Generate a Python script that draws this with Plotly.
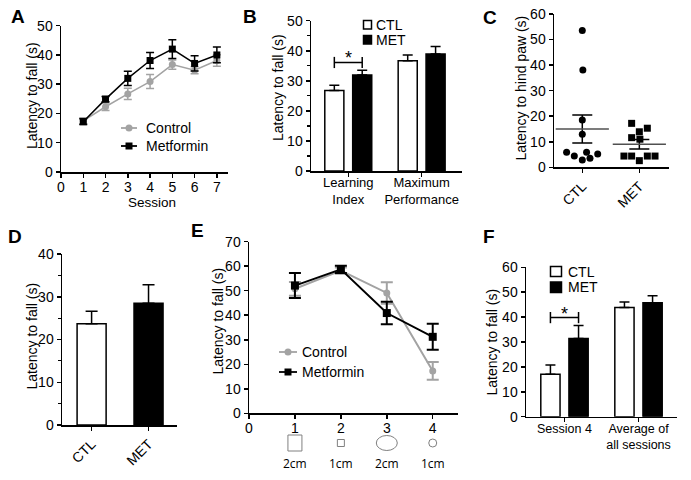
import plotly.graph_objects as go

# ---------------- data ----------------
# A: rotarod learning across sessions
a_sessions = [1, 2, 3, 4, 5, 6, 7]
a_ctl_mean = [17.5, 22.3, 26.7, 30.9, 36.7, 34.8, 38.1]
a_ctl_sem = [1.0, 1.3, 1.9, 2.4, 1.6, 1.2, 2.0]
a_met_mean = [17.2, 24.9, 32.0, 38.1, 42.0, 37.1, 40.0]
a_met_sem = [1.0, 0.9, 2.4, 2.7, 3.2, 2.6, 2.7]

# B: learning index / maximum performance
b_groups = ["Learning<br>Index", "Maximum<br>Performance"]
b_ctl = [26.8, 36.7]
b_ctl_sem = [1.7, 1.9]
b_met = [31.9, 38.9]
b_met_sem = [1.6, 2.5]
b_sig_y = 36.1

# C: latency to hind paw (individual animals)
c_groups = ["CTL", "MET"]
c_ctl_vals = [53.5, 38.1, 18.5, 12.9, 5.9, 4.4, 2.9, 3.5, 5.9, 5.2]
c_ctl_jitter = [0.0, 0.01, 0.0, 0.0, -0.275, -0.14, 0.0, 0.135, 0.075, 0.27]
c_met_vals = [17.2, 13.9, 15.3, 11.6, 11.0, 4.4, 4.4, 4.4, 4.4, 2.6]
c_met_jitter = [-0.135, 0.0, 0.14, -0.135, 0.01, -0.27, -0.135, 0.14, 0.275, 0.0]
c_means = [15.0, 9.0]
c_sems = [5.45, 1.85]

# D
d_groups = ["CTL", "MET"]
d_vals = [23.7, 28.5]
d_sems = [2.9, 4.3]

# E: beam walking
e_beams = [1, 2, 3, 4]
e_beam_sizes = ["2cm", "1cm", "2cm", "1cm"]
e_ctl_mean = [50.8, 58.2, 49.1, 17.3]
e_ctl_sem = [2.8, 1.3, 4.4, 3.6]
e_met_mean = [52.1, 58.7, 40.9, 31.2]
e_met_sem = [5.1, 1.5, 4.6, 5.3]

# F
f_groups = ["Session 4", "Average of<br>all sessions"]
f_ctl = [17.0, 43.9]
f_ctl_sem = [3.8, 2.2]
f_met = [31.4, 45.8]
f_met_sem = [5.2, 2.8]
f_sig_y = 39.8

# ---------------- layout helpers ----------------
W, H = 691, 480
FONT = "Liberation Sans, Arial, sans-serif"
GRAY = "#a3a3a3"


def px(x):
    return x / W


def py(y):
    return 1 - y / H


fig = go.Figure()

BAR_W = 0.26
BAR_OFF = 0.19


def add_bars(xa, ya, ctl, ctl_sem, met, met_sem, cap=5):
    pos = list(range(len(ctl)))
    fig.add_trace(go.Bar(x=pos, y=ctl, width=BAR_W, offset=-BAR_OFF - BAR_W / 2,
                         marker=dict(color="white", line=dict(color="black", width=1.5)),
                         error_y=dict(type="data", symmetric=False, array=ctl_sem,
                                      arrayminus=[0] * len(ctl), color="black",
                                      thickness=1.5, width=cap),
                         xaxis=xa, yaxis=ya, showlegend=False))
    fig.add_trace(go.Bar(x=pos, y=met, width=BAR_W, offset=BAR_OFF - BAR_W / 2,
                         marker=dict(color="black", line=dict(color="black", width=1.5)),
                         error_y=dict(type="data", symmetric=False, array=met_sem,
                                      arrayminus=[0] * len(met), color="black",
                                      thickness=1.5, width=cap),
                         xaxis=xa, yaxis=ya, showlegend=False))


# A
fig.add_trace(go.Scatter(x=a_sessions, y=a_ctl_mean, mode="lines+markers",
                         line=dict(color=GRAY, width=1.5),
                         marker=dict(symbol="circle", size=7, color=GRAY),
                         error_y=dict(type="data", array=a_ctl_sem, color=GRAY, thickness=1.5, width=4),
                         xaxis="x", yaxis="y", showlegend=False, cliponaxis=False))
fig.add_trace(go.Scatter(x=a_sessions, y=a_met_mean, mode="lines+markers",
                         line=dict(color="black", width=1.5),
                         marker=dict(symbol="square", size=7, color="black"),
                         error_y=dict(type="data", array=a_met_sem, color="black", thickness=1.5, width=4),
                         xaxis="x", yaxis="y", showlegend=False, cliponaxis=False))

# B
add_bars("x2", "y2", b_ctl, b_ctl_sem, b_met, b_met_sem, cap=5)
fig.add_trace(go.Scatter(x=[-BAR_OFF, BAR_OFF], y=[b_sig_y, b_sig_y], mode="lines+markers",
                         line=dict(color="black", width=1.5),
                         marker=dict(symbol="line-ns", size=8, line=dict(color="black", width=1.5)),
                         xaxis="x2", yaxis="y2", showlegend=False, cliponaxis=False))

# C
fig.add_trace(go.Scatter(x=[0 + j for j in c_ctl_jitter], y=c_ctl_vals, mode="markers",
                         marker=dict(symbol="circle", size=7, color="black"),
                         xaxis="x3", yaxis="y3", showlegend=False, cliponaxis=False))
fig.add_trace(go.Scatter(x=[1 + j for j in c_met_jitter], y=c_met_vals, mode="markers",
                         marker=dict(symbol="square", size=7, color="black"),
                         xaxis="x3", yaxis="y3", showlegend=False, cliponaxis=False))
fig.add_trace(go.Scatter(x=[0, 1], y=c_means, mode="markers",
                         marker=dict(symbol="line-ew", size=38, color="#505050",
                                     line=dict(color="#505050", width=1.5)),
                         error_y=dict(type="data", array=c_sems, color="black", thickness=1.5, width=10),
                         xaxis="x3", yaxis="y3", showlegend=False, cliponaxis=False))

# D
fig.add_trace(go.Bar(x=[0], y=[d_vals[0]], width=0.51,
                     marker=dict(color="white", line=dict(color="black", width=1.5)),
                     error_y=dict(type="data", symmetric=False, array=[d_sems[0]], arrayminus=[0],
                                  color="black", thickness=1.5, width=6),
                     xaxis="x4", yaxis="y4", showlegend=False))
fig.add_trace(go.Bar(x=[1], y=[d_vals[1]], width=0.51,
                     marker=dict(color="black", line=dict(color="black", width=1.5)),
                     error_y=dict(type="data", symmetric=False, array=[d_sems[1]], arrayminus=[0],
                                  color="black", thickness=1.5, width=6),
                     xaxis="x4", yaxis="y4", showlegend=False))

# E
fig.add_trace(go.Scatter(x=e_beams, y=e_ctl_mean, mode="lines+markers",
                         line=dict(color=GRAY, width=2),
                         marker=dict(symbol="circle", size=7, color=GRAY),
                         error_y=dict(type="data", array=e_ctl_sem, color=GRAY, thickness=2, width=6),
                         xaxis="x5", yaxis="y5", showlegend=False, cliponaxis=False))
fig.add_trace(go.Scatter(x=e_beams, y=e_met_mean, mode="lines+markers",
                         line=dict(color="black", width=2),
                         marker=dict(symbol="square", size=8, color="black"),
                         error_y=dict(type="data", array=e_met_sem, color="black", thickness=2, width=6),
                         xaxis="x5", yaxis="y5", showlegend=False, cliponaxis=False))

# F
add_bars("x6", "y6", f_ctl, f_ctl_sem, f_met, f_met_sem, cap=5)
fig.add_trace(go.Scatter(x=[-BAR_OFF, BAR_OFF], y=[f_sig_y, f_sig_y], mode="lines+markers",
                         line=dict(color="black", width=1.5),
                         marker=dict(symbol="line-ns", size=8, line=dict(color="black", width=1.5)),
                         xaxis="x6", yaxis="y6", showlegend=False, cliponaxis=False))

# ---------------- axes ----------------
TICKF = dict(family=FONT, size=14, color="black")
CATF = dict(family=FONT, size=13, color="black")
common = dict(showline=True, linecolor="black", linewidth=1.5, ticks="outside", ticklen=4,
              tickwidth=1.5, tickcolor="black", showgrid=False, zeroline=False,
              tickfont=TICKF, fixedrange=True, automargin=False)
MINOR = dict(dtick=5, ticks="outside", ticklen=2.5, tickwidth=1.2, tickcolor="black")


def xdom(l, r):
    return [px(l), px(r)]


def ydom(top, bot):
    return [py(bot), py(top)]


layout_axes = {
    # A
    "xaxis": dict(common, domain=xdom(61, 228), range=[0, 7.5], tickvals=list(range(0, 8)),
                  anchor="y", ticklabelstandoff=-2),
    "yaxis": dict(common, domain=ydom(25.7, 172), range=[0, 50], dtick=10, anchor="x"),
    # B
    "xaxis2": dict(common, domain=xdom(311, 462), range=[-0.508, 1.55], tickvals=[0, 1],
                   ticktext=b_groups, anchor="y2", tickfont=CATF, ticklabelstandoff=-5),
    "yaxis2": dict(common, domain=ydom(20.7, 171), range=[0, 50], dtick=10, anchor="x2", minor=MINOR),
    # C
    "xaxis3": dict(common, domain=xdom(554, 669), range=[-0.496, 1.52], tickvals=[0, 1],
                   ticktext=c_groups, tickangle=-45, anchor="y3"),
    "yaxis3": dict(common, domain=ydom(14, 167.3), range=[0, 60], dtick=10, anchor="x3"),
    # D
    "xaxis4": dict(common, domain=xdom(62, 177), range=[-0.52, 1.5], tickvals=[0, 1],
                   ticktext=d_groups, tickangle=-45, anchor="y4"),
    "yaxis4": dict(common, domain=ydom(254, 425), range=[0, 40], dtick=10, anchor="x4", minor=MINOR),
    # E
    "xaxis5": dict(common, domain=xdom(249, 458), range=[0, 4.55], tickvals=[0, 1, 2, 3, 4],
                   anchor="y5", ticklabelstandoff=-3),
    "yaxis5": dict(common, domain=ydom(241.7, 413.3), range=[0, 70], dtick=10, anchor="x5"),
    # F
    "xaxis6": dict(common, domain=xdom(526, 677), range=[-0.52, 1.52], tickvals=[0, 1],
                   ticktext=f_groups, anchor="y6", tickfont=dict(CATF, size=12.5), ticklabelstandoff=-4),
    "yaxis6": dict(common, domain=ydom(267.3, 416.7), range=[0, 60], dtick=10, anchor="x6"),
}

# ---------------- annotations ----------------
ann = []
LETTERF = dict(family=FONT, size=19, color="black")
for letter, lx, ly in [("A", 9, 17), ("B", 241, 17), ("C", 481, 18), ("D", 6, 236),
                       ("E", 189, 231), ("F", 481, 236)]:
    ann.append(dict(text="<b>%s</b>" % letter, x=px(lx), y=py(ly), xref="paper", yref="paper",
                    xanchor="left", yanchor="middle", showarrow=False, font=LETTERF))

TITLEF = dict(family=FONT, size=14, color="black")
for txt, tx, ty in [("Latency to fall (s)", 32, 95), ("Latency to fall (s)", 278, 88),
                    ("Latency to hind paw (s)", 521, 88.5), ("Latency to fall (s)", 31, 336.5),
                    ("Latency to fall (s)", 217, 321.5), ("Latency to fall (s)", 491, 342.5)]:
    ann.append(dict(text=txt, x=px(tx), y=py(ty), xref="paper", yref="paper", textangle=-90,
                    xanchor="center", yanchor="middle", showarrow=False, font=TITLEF))
ann.append(dict(text="Session", x=px(151.7), y=py(202), xref="paper", yref="paper",
                xanchor="center", yanchor="middle", showarrow=False, font=dict(TITLEF, size=13.5)))

# significance stars
STARF = dict(family=FONT, size=18, color="black")
ann.append(dict(text="*", x=0, y=37.6, xref="x2", yref="y2", xanchor="center", yanchor="middle",
                showarrow=False, font=STARF))
ann.append(dict(text="*", x=0, y=41.2, xref="x6", yref="y6", xanchor="center", yanchor="middle",
                showarrow=False, font=STARF))

# beam size labels (E)
for b, s in zip(e_beams, e_beam_sizes):
    ann.append(dict(text=s, x=b, y=py(463), xref="x5", yref="paper", xanchor="center",
                    yanchor="middle", showarrow=False,
                    font=dict(family="Open Sans, sans-serif", size=12, color="black")))

LEGF = dict(family=FONT, size=14, color="black")
shapes = []


def line_legend(x0, x1, y, color, marker, label, tx):
    shapes.append(dict(type="line", xref="paper", yref="paper", x0=px(x0), x1=px(x1), y0=py(y), y1=py(y),
                       line=dict(color=color, width=1.8)))
    cx = px((x0 + x1) / 2)
    shapes.append(dict(type="circle" if marker == "circle" else "rect", xref="paper", yref="paper",
                       xsizemode="pixel", ysizemode="pixel", xanchor=cx, yanchor=py(y),
                       x0=-3.5, x1=3.5, y0=-3.5, y1=3.5, fillcolor=color, line=dict(width=0)))
    ann.append(dict(text=label, x=px(tx), y=py(y), xref="paper", yref="paper", xanchor="left",
                    yanchor="middle", showarrow=False, font=LEGF))


def box_legend(x0, x1, y0, y1, fill, label, tx):
    shapes.append(dict(type="rect", xref="paper", yref="paper", x0=px(x0), x1=px(x1), y0=py(y1), y1=py(y0),
                       fillcolor=fill, line=dict(color="black", width=1.5)))
    ann.append(dict(text=label, x=px(tx), y=py((y0 + y1) / 2), xref="paper", yref="paper",
                    xanchor="left", yanchor="middle", showarrow=False, font=LEGF))


line_legend(121, 137, 128, GRAY, "circle", "Control", 144)
line_legend(121, 137, 146, "black", "square", "Metformin", 144)
line_legend(279, 297, 352, GRAY, "circle", "Control", 300)
line_legend(279, 297, 372, "black", "square", "Metformin", 300)
box_legend(363.5, 371.5, 20.5, 29, "white", "CTL", 374)
box_legend(363.5, 371.5, 35.5, 44, "black", "MET", 374)
box_legend(550.5, 561.5, 266.5, 276.5, "white", "CTL", 566)
box_legend(550.5, 561.5, 282, 292.5, "black", "MET", 566)

# beam cross-section icons (E)
ICON = "#808080"
for b, kind, hw, hh in [(1, "rect", 7, 8), (2, "rect", 3.5, 3.5), (3, "circle", 10.5, 7.5), (4, "circle", 4, 4)]:
    shapes.append(dict(type=kind, xref="x5", yref="paper", xsizemode="pixel", ysizemode="pixel",
                       xanchor=b, yanchor=py(443), x0=-hw, x1=hw, y0=-hh, y1=hh,
                       fillcolor="rgba(0,0,0,0)", line=dict(color=ICON, width=1)))

fig.update_layout(width=W, height=H, margin=dict(l=0, r=0, t=0, b=0, autoexpand=False),
                  paper_bgcolor="white", plot_bgcolor="white", barmode="overlay",
                  showlegend=False, annotations=ann, shapes=shapes, hovermode=False,
                  font=dict(family=FONT, color="black"), **layout_axes)

fig.write_html("out.html", config={"displayModeBar": False, "staticPlot": True},
               post_script="document.body.style.margin='0px';document.body.style.overflow='hidden';")
